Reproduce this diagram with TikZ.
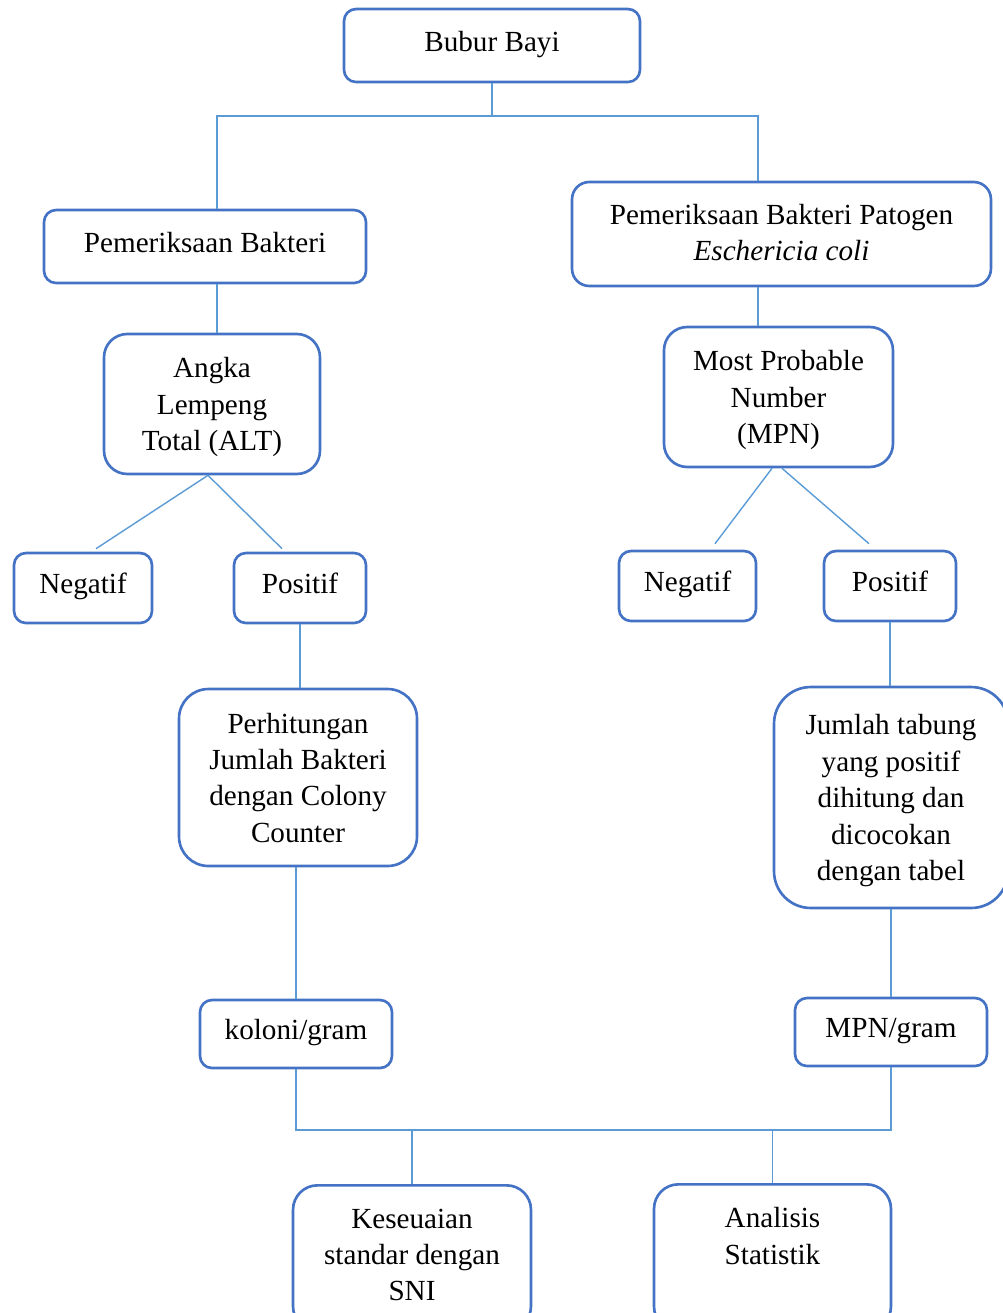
\documentclass[tikz,border=0pt]{standalone}
\usepackage{fontspec}
\setmainfont{Liberation Serif}
\definecolor{boxblue}{HTML}{4472C4}
\definecolor{linkblue}{HTML}{5B9BD5}
\tikzset{
  box/.style={draw=boxblue, line width=1.5pt, fill=white, align=center, inner sep=0pt, rounded corners=#1},
  box/.default=6.8pt,
  one/.style={text height=11pt, text depth=4.5pt},
  multi/.style={text depth=0pt},
  link/.style={draw=linkblue, line width=0.8pt},
  endbox/.style={box=13.9pt, anchor=north, minimum width=4.76cm}
}
\begin{document}
\begin{tikzpicture}[x=0.02cm, y=-0.02cm, every node/.style={font=\fontsize{16.6}{20.7}\selectfont}]
\useasboundingbox (0,0) rectangle (1003,1313);
\clip (0,0) rectangle (1003,1313);
% boxes
\node[box, one, minimum width=5.92cm, minimum height=1.46cm] (bubur) at (492,45.5) {Bubur Bayi};
\node[box, one, minimum width=6.44cm, minimum height=1.46cm] (periksa) at (205,246.5) {Pemeriksaan Bakteri};
\node[box=9.8pt, text depth=2pt, minimum width=8.38cm, minimum height=2.08cm] (patogen) at (781.5,234) {Pemeriksaan Bakteri Patogen\\\textit{Eschericia coli}};
\node[box=13.2pt, multi, minimum width=4.32cm, minimum height=2.8cm] (alt) at (212,404) {Angka\\Lempeng\\Total (ALT)};
\node[box=13.2pt, multi, minimum width=4.58cm, minimum height=2.8cm] (mpn) at (778.5,397) {Most Probable\\Number\\(MPN)};
\node[box, one, minimum width=2.76cm, minimum height=1.4cm] (negalt) at (83,588) {Negatif};
\node[box, one, minimum width=2.64cm, minimum height=1.4cm] (posalt) at (300,588) {Positif};
\node[box, one, minimum width=2.74cm, minimum height=1.4cm] (negmpn) at (687.5,586) {Negatif};
\node[box, one, minimum width=2.64cm, minimum height=1.4cm] (posmpn) at (890,586) {Positif};
\node[box=16.7pt, text depth=-1pt, minimum width=4.76cm, minimum height=3.54cm] (hitung) at (298,777.5) {Perhitungan\\Jumlah Bakteri\\dengan Colony\\Counter};
\node[box=20.9pt, multi, minimum width=4.68cm, minimum height=4.42cm] (tabung) at (891,797.5) {Jumlah tabung\\yang positif\\dihitung dan\\dicocokan\\dengan tabel};
\node[box, one, minimum width=3.84cm, minimum height=1.36cm] (koloni) at (296,1034) {koloni/gram};
\node[box, one, minimum width=3.84cm, minimum height=1.36cm] (mpngram) at (891,1032) {MPN/gram};
\node[endbox, text height=65.8pt, text depth=17pt] (sni) at (412,1184) {Keseuaian\\standar dengan\\SNI};
\node[endbox, text height=45.5pt, text depth=38pt, minimum width=4.74cm] (statistik) at (772.5,1183) {Analisis\\Statistik};
% junctions
\coordinate (jl) at (217,116);
\coordinate (jr) at (758,116);
\coordinate (jb) at (293,1130);
% connectors
\draw[link] (bubur.south) -- (bubur.south |- jl);
\draw[link] (periksa.north -| jl) -- (jl) -- (jr) -- (patogen.north -| jr);
\draw[link] (periksa.south -| jl) -- (alt.north -| jl);
\draw[link] (patogen.south -| jr) -- (mpn.north -| jr);
\draw[link] ([xshift=-0.08cm]alt.south) -- ([xshift=0.26cm,yshift=0.06cm]negalt.north);
\draw[link] ([xshift=-0.08cm]alt.south) -- ([xshift=-0.36cm,yshift=0.06cm]posalt.north);
\draw[link] ([xshift=-0.13cm]mpn.south) -- ([xshift=0.55cm,yshift=0.12cm]negmpn.north);
\draw[link] ([xshift=0.07cm]mpn.south) -- ([xshift=-0.42cm,yshift=0.12cm]posmpn.north);
\draw[link] (posalt.south) -- (posalt.south |- hitung.north);
\draw[link] (koloni.north |- hitung.south) -- (koloni.north);
\draw[link] (posmpn.south) -- (posmpn.south |- tabung.north);
\draw[link] (tabung.south) -- (mpngram.north);
\draw[link] (koloni.south) |- (mpngram.south |- jb) -- (mpngram.south);
\draw[link] (sni.north |- jb) -- (sni.north);
\draw[link] (statistik.north |- jb) -- (statistik.north);
\end{tikzpicture}
\end{document}
